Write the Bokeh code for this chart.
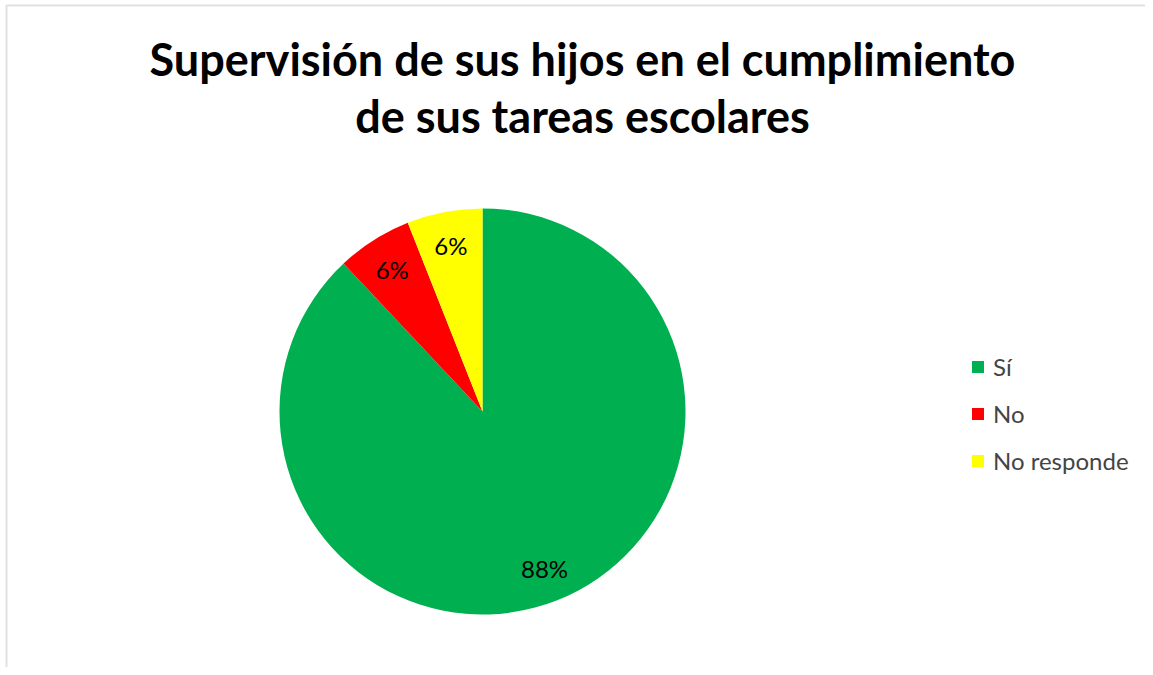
import math
from bokeh.plotting import figure
from bokeh.models import ColumnDataSource, Range1d, Label, Legend, LegendItem, BoxAnnotation
from bokeh.core.properties import value
from bokeh.embed import file_html
from bokeh.resources import INLINE

# ---- data ----
categories = ["Sí", "No", "No responde"]
values = [88, 6, 6]
colors = ["#00B050", "#FF0000", "#FFFF00"]
title_lines = ["Supervisión de sus hijos en el cumplimiento", "de sus tareas escolares"]

W, H = 1145, 667
CX, CY = 482, 411          # pie centre, px from figure left / top
R = 203

total = sum(values)
starts, ends, lx, ly, labels = [], [], [], [], []
cum = 0.0
for v in values:
    a0 = math.pi / 2 - 2 * math.pi * cum / total
    cum += v
    a1 = math.pi / 2 - 2 * math.pi * cum / total
    starts.append(a0)
    ends.append(a1)
    mid = (a0 + a1) / 2
    lx.append(0.83 * R * math.cos(mid))
    ly.append(0.83 * R * math.sin(mid))
    labels.append(f"{round(100 * v / total)}%")

src = ColumnDataSource(dict(cat=categories, start=starts, end=ends, color=colors,
                            lx=lx, ly=ly, lab=labels))

p = figure(width=W, height=H, output_backend="svg", toolbar_location=None,
           x_range=Range1d(-CX, W - CX), y_range=Range1d(-(H - CY), CY),
           min_border=0, tools="")
p.axis.visible = False
p.grid.visible = False
p.outline_line_color = None
p.background_fill_color = "white"
p.border_fill_color = "white"

r = p.wedge(x=0, y=0, radius=R, start_angle="start", end_angle="end",
            direction="clock", fill_color="color", line_color=None, source=src)

p.text(x="lx", y="ly", text="lab", source=src, text_align="center",
       text_baseline="middle", text_font=value("Lato"), text_font_size="24px",
       text_color="black")

# title
title_y = [CY - 58, CY - 115]
for t, ty in zip(title_lines, title_y):
    p.add_layout(Label(x=582 - CX, y=ty, text=t, text_align="center",
                       text_baseline="middle", text_font="Lato",
                       text_font_style="bold", text_font_size="45px",
                       text_color="black"))

# chart-area border (top/left visible)
p.add_layout(BoxAnnotation(left=6 - CX, right=W - CX + 50, top=CY - 5, bottom=-(H - CY) - 50,
                           fill_color=None, line_color="#9a9a9a", line_width=2))

legend = Legend(items=[LegendItem(label=c, renderers=[r], index=i)
                       for i, c in enumerate(categories)],
                location=(970, 192), orientation="vertical",
                glyph_width=15, glyph_height=15, label_height=30,
                spacing=17, padding=0, margin=0, label_standoff=8,
                label_text_font="Lato", label_text_font_size="24px",
                border_line_color=None, background_fill_alpha=0)
p.add_layout(legend, "center")

open("out.html", "w").write(file_html(p, INLINE))
